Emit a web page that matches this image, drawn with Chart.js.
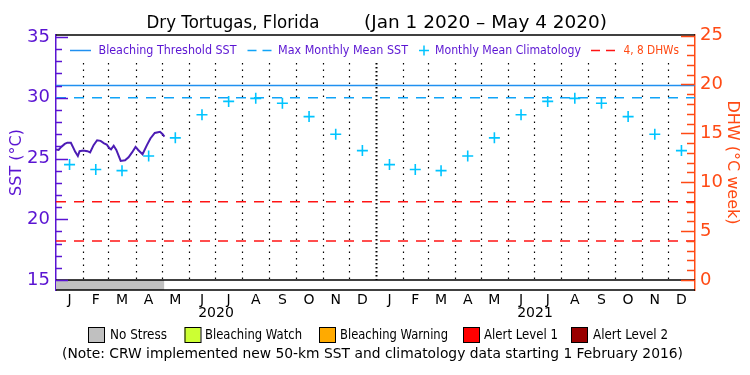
<!DOCTYPE html>
<html><head><meta charset="utf-8">
<script src="https://cdn.jsdelivr.net/npm/chart.js@4.4.1/dist/chart.umd.min.js"></script>
<style>html,body{margin:0;padding:0;background:#fff;}#wrap{position:relative;width:750px;height:375px;}</style>
</head><body><div id="wrap"><canvas id="c" width="750" height="375"></canvas></div>
<script>
const titleText = 'Dry Tortugas, Florida';
const periodText = '(Jan 1 2020 \u2013 May 4 2020)';
const monthLabels = ['J','F','M','A','M','J','J','A','S','O','N','D','J','F','M','A','M','J','J','A','S','O','N','D'];
const monthStarts = [0,31,60,91,121,152,182,213,244,274,305,335,366,397,425,456,486,517,547,578,609,639,670,700,731];
const yearLabels = ['2020','2021'];
const yearMidDays = [183, 548];
const sstDays =   [0,3,6,10,13,17,20,22,25,27,31,36,39,43,47,51,55,58,61,63,66,69,74,79,83,87,91,94,99,104,108,113,119,122,124];
const sstValues = [25.75,25.7,25.95,26.2,26.3,26.3,25.85,25.55,25.2,25.6,25.65,25.6,25.5,26.1,26.5,26.45,26.25,26.15,25.85,25.75,26.05,25.7,24.8,24.85,25.1,25.5,25.95,25.7,25.35,26.1,26.65,27.1,27.2,27.0,26.8];
const climatology = [24.5,24.1,24.0,25.2,26.7,28.6,29.7,29.95,29.55,28.45,27.0,25.65,
                     24.5,24.1,24.0,25.2,26.7,28.6,29.7,29.95,29.55,28.45,27.0,25.65];
const bleachingThreshold = 31.0;
const maxMonthlyMean = 30.0;
const dhwLevels = [4, 8];
const noStressEndDay = 124;
const sstTicks = [15,20,25,30,35];
const dhwTicks = [0,5,10,15,20,25];
const stressLegend = [['No Stress','#c0c0c0'],['Bleaching Watch','#ccff33'],['Bleaching Warning','#ffaa00'],['Alert Level 1','#ff0000'],['Alert Level 2','#990000']];
const noteText = '(Note: CRW implemented new 50-km SST and climatology data starting 1 February 2016)';
const legendTexts = ['Bleaching Threshold SST','Max Monthly Mean SST','Monthly Mean Climatology','4, 8 DHWs'];

const PURPLE = '#5a14d2', ORANGE = '#ff4a14', CYAN = '#00c4ff', BLUE = '#2090f0', DASHBLUE = '#10a4f8', RED = '#ff1414', SSTC = '#4c1cb4';
const FONT = 'DejaVu Sans';

const midDays = monthLabels.map((_, i) => (monthStarts[i] + monthStarts[i + 1]) / 2);
const lastDay = monthStarts[monthStarts.length - 1];

function fitText(ctx, text, x, y, w, size, color, align) {
  ctx.save();
  ctx.font = size + 'px "' + FONT + '"';
  ctx.fillStyle = color;
  ctx.textBaseline = 'middle';
  ctx.textAlign = 'left';
  const m = ctx.measureText(text).width;
  const s = w / m;
  ctx.translate(x, y);
  ctx.scale(s, 1);
  ctx.fillText(text, 0, 0);
  ctx.restore();
}

const decorPlugin = {
  id: 'decor',
  beforeDatasetsDraw(chart) {
    const {ctx, chartArea: a, scales: {x, y}} = chart;
    const yb = y.getPixelForValue(sstTicks[0]);
    ctx.save();
    for (let i = 1; i < monthStarts.length - 1; i++) {
      const px = Math.round(x.getPixelForValue(monthStarts[i])) + 0.5;
      const year = (i === 12);
      ctx.beginPath();
      ctx.strokeStyle = '#000';
      ctx.lineWidth = year ? 2 : 1.2;
      ctx.setLineDash(year ? [1.5, 2.5] : [1.5, 5]);
      ctx.moveTo(px, a.top + 28);
      ctx.lineTo(px, yb);
      ctx.stroke();
    }
    ctx.restore();
  },
  afterDatasetsDraw(chart) {
    const {ctx, chartArea: a, scales: {x, y, y2}} = chart;
    ctx.save();
    // frame lines
    ctx.strokeStyle = '#000';
    ctx.lineWidth = 1.5;
    ctx.beginPath(); ctx.moveTo(a.left, a.top); ctx.lineTo(a.right, a.top); ctx.stroke();
    ctx.beginPath(); ctx.moveTo(a.left, a.bottom); ctx.lineTo(a.right, a.bottom); ctx.stroke();
    const yb = y.getPixelForValue(sstTicks[0]);
    ctx.beginPath(); ctx.moveTo(a.left, yb); ctx.lineTo(a.right, yb); ctx.stroke();
    // inner ticks left
    ctx.strokeStyle = PURPLE; ctx.lineWidth = 1.5;
    for (let v = sstTicks[0]; v <= sstTicks[sstTicks.length - 1]; v++) {
      const py = Math.round(y.getPixelForValue(v)) + 0.5;
      const len = (v % 5 === 0) ? 12 : 6;
      ctx.beginPath(); ctx.moveTo(a.left, py); ctx.lineTo(a.left + len, py); ctx.stroke();
    }
    ctx.strokeStyle = ORANGE;
    for (let v = dhwTicks[0]; v <= dhwTicks[dhwTicks.length - 1]; v++) {
      const py = Math.round(y2.getPixelForValue(v)) + 0.5;
      const len = (v % 5 === 0) ? 14 : 8;
      ctx.beginPath(); ctx.moveTo(a.right, py); ctx.lineTo(a.right - len, py); ctx.stroke();
    }
    // in-plot legend
    const ly = 50.5;
    ctx.lineWidth = 1.5;
    ctx.strokeStyle = BLUE; ctx.setLineDash([]);
    ctx.beginPath(); ctx.moveTo(70, ly); ctx.lineTo(91, ly); ctx.stroke();
    fitText(ctx, legendTexts[0], 98.5, ly, 138, 13, PURPLE);
    ctx.strokeStyle = DASHBLUE;
    ctx.beginPath(); ctx.moveTo(247.5, ly); ctx.lineTo(256.5, ly); ctx.moveTo(262.5, ly); ctx.lineTo(271.5, ly); ctx.stroke();
    fitText(ctx, legendTexts[1], 278, ly, 130, 13, PURPLE);
    ctx.strokeStyle = CYAN;
    ctx.beginPath(); ctx.moveTo(419, ly); ctx.lineTo(429, ly); ctx.moveTo(424, ly - 5); ctx.lineTo(424, ly + 5); ctx.stroke();
    fitText(ctx, legendTexts[2], 435, ly, 146, 13, PURPLE);
    ctx.strokeStyle = RED;
    ctx.beginPath(); ctx.moveTo(591, ly); ctx.lineTo(600, ly); ctx.moveTo(606, ly); ctx.lineTo(615, ly); ctx.stroke();
    fitText(ctx, legendTexts[3], 623.5, ly, 55.5, 13, ORANGE);
    ctx.restore();
  },
  afterDraw(chart) {
    const {ctx, scales: {x}} = chart;
    ctx.save();
    fitText(ctx, titleText, 146.5, 23.5, 173, 17, '#000');
    fitText(ctx, periodText, 364, 23.5, 243, 17, '#000');
    // year labels
    ctx.font = '14px "' + FONT + '"';
    ctx.fillStyle = '#000'; ctx.textAlign = 'center'; ctx.textBaseline = 'middle';
    yearLabels.forEach((t, i) => ctx.fillText(t, x.getPixelForValue(yearMidDays[i]), 313.5));
    // stress legend
    const boxX = [88, 184.5, 319, 463, 571];
    const textX = [[110, 57], [205, 97], [340, 108], [484, 74], [593, 75]];
    stressLegend.forEach(([label, color], i) => {
      ctx.fillStyle = color;
      ctx.fillRect(boxX[i], 327, 16, 15);
      ctx.strokeStyle = '#000'; ctx.lineWidth = 1;
      ctx.strokeRect(boxX[i] + 0.5, 327.5, 16, 15);
      fitText(ctx, label, textX[i][0], 335, textX[i][1], 14, '#000');
    });
    fitText(ctx, noteText, 62, 354.5, 621, 14, '#000');
    ctx.restore();
  }
};

const lineData = v => [{x: 0, y: v}, {x: lastDay, y: v}];

new Chart(document.getElementById('c'), {
  type: 'line',
  data: {
    datasets: [
      {label: 'SST', data: sstDays.map((d, i) => ({x: d, y: sstValues[i]})), borderColor: SSTC, borderWidth: 2, pointRadius: 0, tension: 0, yAxisID: 'y', order: 0},
      {label: 'Monthly Mean Climatology', data: midDays.map((d, i) => ({x: d, y: climatology[i]})), showLine: false, pointStyle: 'cross', pointRadius: 5.5, borderColor: CYAN, borderWidth: 1.6, yAxisID: 'y', order: 1},
      {label: 'Bleaching Threshold SST', data: lineData(bleachingThreshold), borderColor: BLUE, borderWidth: 1.5, pointRadius: 0, yAxisID: 'y', order: 2},
      {label: 'Max Monthly Mean SST', data: lineData(maxMonthlyMean), borderColor: DASHBLUE, borderWidth: 1.5, borderDash: [10, 8], pointRadius: 0, yAxisID: 'y', order: 2},
      {label: '4 DHW', data: lineData(dhwLevels[0]), borderColor: RED, borderWidth: 1.5, borderDash: [10, 8], pointRadius: 0, yAxisID: 'y2', order: 2},
      {label: '8 DHW', data: lineData(dhwLevels[1]), borderColor: RED, borderWidth: 1.5, borderDash: [10, 8], pointRadius: 0, yAxisID: 'y2', order: 2},
      {label: 'No Stress', data: [{x: 0, y: sstTicks[0]}, {x: noStressEndDay, y: sstTicks[0]}], borderWidth: 0, pointRadius: 0, backgroundColor: '#c0c0c0', fill: 'start', yAxisID: 'y', order: 5}
    ]
  },
  options: {
    responsive: false,
    animation: false,
    layout: {padding: {top: 35, left: 0, right: 0, bottom: 0}},
    plugins: {legend: {display: false}, tooltip: {enabled: false}, title: {display: false}},
    scales: {
      x: {
        type: 'linear', min: 0, max: lastDay, position: 'bottom',
        grid: {display: false, drawTicks: false, tickLength: 0},
        border: {display: false},
        ticks: {color: '#000', font: {family: FONT, size: 14}, padding: 2, autoSkip: false, maxRotation: 0,
                callback: (v, i) => monthLabels[i]},
        afterBuildTicks: s => { s.ticks = midDays.map(d => ({value: d})); },
        afterFit: s => { s.height = 85; }
      },
      y: {
        type: 'linear', position: 'left', min: 14.177, max: 35.165,
        grid: {display: false, drawTicks: false, tickLength: 0},
        border: {display: true, color: PURPLE, width: 1.5},
        ticks: {color: PURPLE, font: {family: FONT, size: 18}, padding: 6},
        afterBuildTicks: s => { s.ticks = sstTicks.map(v => ({value: v})); },
        title: {display: true, text: 'SST (\u00B0C)', color: PURPLE, font: {family: FONT, size: 16}, padding: {top: 7, bottom: 0}},
        afterFit: s => { s.width = 56; }
      },
      y2: {
        type: 'linear', position: 'right', min: -1.023, max: 25.06,
        grid: {display: false, drawTicks: false, tickLength: 0},
        border: {display: true, color: ORANGE, width: 1.5},
        ticks: {color: ORANGE, font: {family: FONT, size: 18}, padding: 5},
        afterBuildTicks: s => { s.ticks = dhwTicks.map(v => ({value: v})); },
        title: {display: true, text: 'DHW (\u00B0C week)', color: ORANGE, font: {family: FONT, size: 16}, padding: {top: 8, bottom: 0}},
        afterFit: s => { s.width = 55; }
      }
    }
  },
  plugins: [decorPlugin]
});
</script></body></html>
